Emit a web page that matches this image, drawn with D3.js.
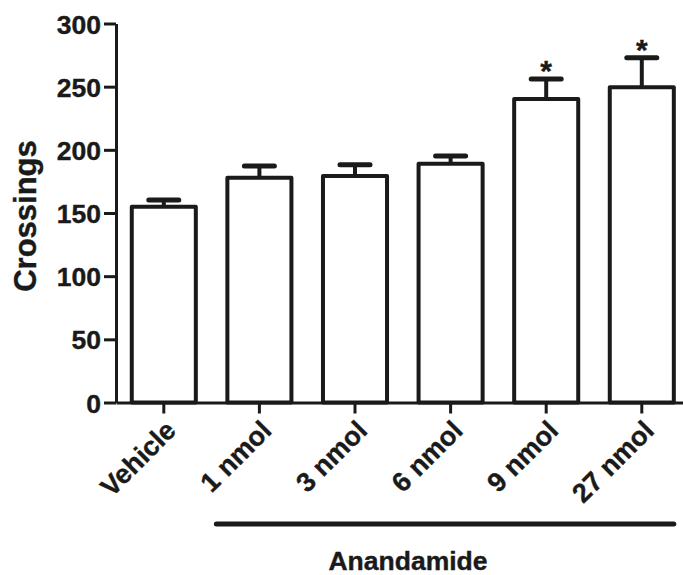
<!DOCTYPE html>
<html>
<head>
<meta charset="UTF-8">
<script src="https://cdn.jsdelivr.net/npm/d3@7"></script>
<style>
  body { margin: 0; background: #fff; }
  text { font-family: "Liberation Sans", Arial, sans-serif; font-weight: bold; fill: #1a1a1a;
         stroke: #1a1a1a; stroke-width: 0.4px; }
</style>
</head>
<body>
<div id="chart"></div>
<script>
// data
var categories = ["Vehicle", "1 nmol", "3 nmol", "6 nmol", "9 nmol", "27 nmol"];
var means = [155, 178, 179.3, 189, 240.2, 249.5];
var sems = [5.3, 9.3, 8.9, 6.1, 15.9, 23.4];
var signif = [false, false, false, false, true, true];
var yTicks = [0, 50, 100, 150, 200, 250, 300];

var width = 683, height = 575;
var ink = "#1a1a1a";

var svg = d3.select("#chart").append("svg")
  .attr("width", width)
  .attr("height", height);

var y = d3.scaleLinear().domain([0, 300]).range([402.5, 23.5]);
var x = d3.scaleBand().domain(categories).range([116, 116 + 6 * 95.6])
  .paddingInner(0.33).paddingOuter(0.165);
var bw = x.bandwidth();

// bars
var data = categories.map(function(c, i) {
  return { cat: c, mean: means[i], sem: sems[i], star: signif[i] };
});

var g = svg.append("g");

// error bars (drawn first, bar covers the stem)
g.selectAll("line.err").data(data).enter().append("line")
  .attr("x1", function(d) { return x(d.cat) + bw / 2; })
  .attr("x2", function(d) { return x(d.cat) + bw / 2; })
  .attr("y1", function(d) { return y(d.mean); })
  .attr("y2", function(d) { return y(d.mean + d.sem); })
  .attr("stroke", ink).attr("stroke-width", 4);

g.selectAll("line.cap").data(data).enter().append("line")
  .attr("x1", function(d) { return x(d.cat) + bw / 2 - 15; })
  .attr("x2", function(d) { return x(d.cat) + bw / 2 + 15; })
  .attr("y1", function(d) { return y(d.mean + d.sem); })
  .attr("y2", function(d) { return y(d.mean + d.sem); })
  .attr("stroke", ink).attr("stroke-width", 5)
  .attr("stroke-linecap", "round");

g.selectAll("rect.bar").data(data).enter().append("rect")
  .attr("class", "bar")
  .attr("x", function(d) { return x(d.cat); })
  .attr("y", function(d) { return y(d.mean); })
  .attr("width", bw)
  .attr("height", function(d) { return y(0) - y(d.mean); })
  .attr("fill", "#fff")
  .attr("stroke", ink)
  .attr("stroke-width", 4)
  .attr("stroke-linejoin", "round");

// asterisks
g.selectAll("text.star").data(data.filter(function(d) { return d.star; })).enter().append("text")
  .attr("x", function(d) { return x(d.cat) + bw / 2; })
  .attr("y", function(d) { return y(d.mean + d.sem) + 2; })
  .attr("text-anchor", "middle")
  .style("font-size", "30px")
  .text("*");

// y axis
var yAxis = d3.axisLeft(y).tickValues(yTicks).tickSize(12).tickSizeOuter(0).tickPadding(3);
var ya = svg.append("g").attr("transform", "translate(116,0)").call(yAxis);
ya.select(".domain").attr("stroke", ink).attr("stroke-width", 3);
ya.selectAll(".tick line").attr("stroke", ink).attr("stroke-width", 3);
ya.selectAll(".tick text").style("font-size", "26.5px").attr("fill", ink).attr("dy", "0.36em");

// x axis
var xAxis = d3.axisBottom(x).tickSize(11).tickSizeOuter(0).tickFormat("");
var xa = svg.append("g").attr("transform", "translate(0," + y(0) + ")").call(xAxis);
xa.select(".domain").attr("stroke", ink).attr("stroke-width", 3);
xa.selectAll(".tick line").attr("stroke", ink).attr("stroke-width", 3);

svg.selectAll("text.xlab").data(categories).enter().append("text")
  .attr("transform", function(d) {
    return "translate(" + (x(d) + bw / 2 + 7) + "," + (y(0) + 23) + ") rotate(-45)";
  })
  .attr("text-anchor", "end")
  .attr("dy", "0.35em")
  .style("font-size", "27px")
  .text(function(d) { return d; });

// y label
svg.append("text")
  .attr("transform", "translate(36,216) rotate(-90)")
  .attr("text-anchor", "middle")
  .style("font-size", "31px")
  .text("Crossings");

// Anandamide bracket
svg.append("line")
  .attr("x1", x("1 nmol") - 11)
  .attr("x2", x("27 nmol") + bw)
  .attr("y1", 524).attr("y2", 524)
  .attr("stroke", ink).attr("stroke-width", 5)
  .attr("stroke-linecap", "round");

svg.append("text")
  .attr("x", 408).attr("y", 570)
  .attr("text-anchor", "middle")
  .style("font-size", "26.5px")
  .text("Anandamide");
</script>
</body>
</html>
